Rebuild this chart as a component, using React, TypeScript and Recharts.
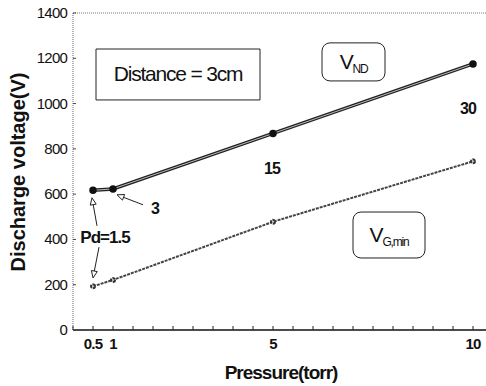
import { Line, LineChart, ReferenceArea, ReferenceDot, ReferenceLine, XAxis, YAxis } from "recharts";

const pressure = [0.5, 1, 5, 10];
const vND = [617, 623, 868, 1175];
const vGmin = [193, 221, 478, 745];
const xTicks = [0, 0.5, 1, 1.5, 2, 2.5, 3, 3.5, 4, 4.5, 5, 5.5, 6, 6.5, 7, 7.5, 8, 8.5, 9, 9.5, 10];
const xLabels = [0.5, 1, 5, 10];
const yTicks = [0, 200, 400, 600, 800, 1000, 1200, 1400];

const data = pressure.map((p, i) => ({ p, nd: vND[i], g: vGmin[i] }));

const FONT = "'Liberation Sans Narrow', 'Liberation Sans', Arial, sans-serif";

function XTick(props: any) {
  const { x, y, payload } = props;
  const v = payload.value;
  return (
    <g>
      <line x1={x} y1={y} x2={x} y2={y - 4} stroke="#222" strokeWidth={1} />
      {xLabels.includes(v) && (
        <text x={x} y={y + 19} textAnchor="middle" fontFamily={FONT} fontWeight="bold" fontSize={15} fill="#111" letterSpacing={-0.8}>
          {v}
        </text>
      )}
    </g>
  );
}

function YTick(props: any) {
  const { x, y, payload } = props;
  return (
    <g>
      <line x1={x} y1={y} x2={x + 3} y2={y} stroke="#444" strokeWidth={1} />
      <text x={x - 6} y={y + 5} textAnchor="end" fontFamily={FONT} fontSize={15} fill="#111" letterSpacing={-0.8}>
        {payload.value}
      </text>
    </g>
  );
}

function Arrow(props: any) {
  const { x1, y1, x2, y2 } = props;
  const a = Math.atan2(y2 - y1, x2 - x1);
  const len = 7;
  const w = 3;
  const bx = x2 - len * Math.cos(a);
  const by = y2 - len * Math.sin(a);
  const px = -Math.sin(a) * w;
  const py = Math.cos(a) * w;
  return (
    <g>
      <line x1={x1} y1={y1} x2={bx} y2={by} stroke="#222" strokeWidth={1} />
      <polygon points={`${x2},${y2} ${bx + px},${by + py} ${bx - px},${by - py}`} fill="#fff" stroke="#222" strokeWidth={1} />
    </g>
  );
}

function BoxLabel(text: any, size = 21) {
  return (props: any) => {
    const { viewBox } = props;
    const cx = viewBox.x + viewBox.width / 2;
    const cy = viewBox.y + viewBox.height / 2;
    return (
      <text x={cx} y={cy + 7} textAnchor="middle" fontFamily={FONT} fontSize={size} fill="#111" letterSpacing={-1.2}>
        {text}
      </text>
    );
  };
}

function TextAt(text: string, size = 16) {
  return (props: any) => {
    const { viewBox } = props;
    return (
      <text x={viewBox.x} y={viewBox.y + 6} textAnchor="middle" fontFamily={FONT} fontWeight="bold" fontSize={size} fill="#111" letterSpacing={-1}>
        {text}
      </text>
    );
  };
}

export default function App() {
  return (
    <div style={{ position: "absolute", left: 0, top: 0 }}>
      <LineChart width={486} height={386} data={data} margin={{ top: 13, right: 0, left: 0, bottom: 0 }}>
        <XAxis
          dataKey="p"
          type="number"
          domain={[0, 10.325]}
          ticks={xTicks}
          interval={0}
          tickSize={0}
          tickMargin={0}
          tick={<XTick />}
          axisLine={{ stroke: "#111", strokeWidth: 1.5 }}
          height={56}
          label={{
            content: () => (
              <text x={281} y={379} textAnchor="middle" fontFamily={FONT} fontWeight="bold" fontSize={19} fill="#111" letterSpacing={-1}>
                Pressure(torr)
              </text>
            )
          }}
        />
        <YAxis
          type="number"
          domain={[0, 1400]}
          ticks={yTicks}
          interval={0}
          width={73}
          tickSize={0}
          tickMargin={0}
          tick={<YTick />}
          axisLine={{ stroke: "#666", strokeWidth: 1, strokeDasharray: "1 1" }}
          label={{
            content: () => (
              <text x={25} y={172} transform="rotate(-90 25 172)" textAnchor="middle" fontFamily="'Liberation Sans', Arial, sans-serif" fontWeight="bold" fontSize={20} fill="#111">
                Discharge voltage(V)
              </text>
            )
          }}
        />
        <ReferenceLine y={1400} stroke="#777" strokeDasharray="1 1" />

        <ReferenceArea x1={0.575} x2={4.675} y1={1016} y2={1241} fill="#fff" fillOpacity={1} stroke="#222" strokeWidth={1} label={BoxLabel("Distance = 3cm")} />
        <ReferenceArea x1={6.225} x2={7.8} y1={1100} y2={1268} fill="#fff" fillOpacity={1} stroke="#222" strokeWidth={1} radius={8} label={BoxLabel(<>V<tspan fontSize={12} dy={4}>ND</tspan></>)} />
        <ReferenceArea x1={7.0} x2={8.8} y1={318} y2={521} fill="#fff" fillOpacity={1} stroke="#222" strokeWidth={1} radius={8} label={BoxLabel(<>V<tspan fontSize={12} dy={4}>G,min</tspan></>)} />

        <Line dataKey="nd" stroke="#222" strokeWidth={3.5} dot={{ r: 2, fill: "#111", stroke: "#111" }} isAnimationActive={false} />
        <Line dataKey="nd" stroke="#bbb" strokeWidth={1} dot={false} isAnimationActive={false} />
        <Line dataKey="g" stroke="#444" strokeWidth={2} strokeDasharray="3 1" dot={{ r: 2, fill: "#ccc", stroke: "#333" }} isAnimationActive={false} />

        <ReferenceLine segment={[{ x: 0.6, y: 460 }, { x: 0.475, y: 584 }]} shape={Arrow} />
        <ReferenceLine segment={[{ x: 0.65, y: 366 }, { x: 0.5, y: 230 }]} shape={Arrow} />
        <ReferenceLine segment={[{ x: 1.75, y: 553 }, { x: 1.1, y: 597 }]} shape={Arrow} />

        <ReferenceDot x={0.8} y={411} r={0} label={TextAt("Pd=1.5", 17)} />
        <ReferenceDot x={2.05} y={539} r={0} label={TextAt("3")} />
        <ReferenceDot x={4.975} y={716} r={0} label={TextAt("15")} />
        <ReferenceDot x={9.875} y={981} r={0} label={TextAt("30")} />
      </LineChart>
    </div>
  );
}
